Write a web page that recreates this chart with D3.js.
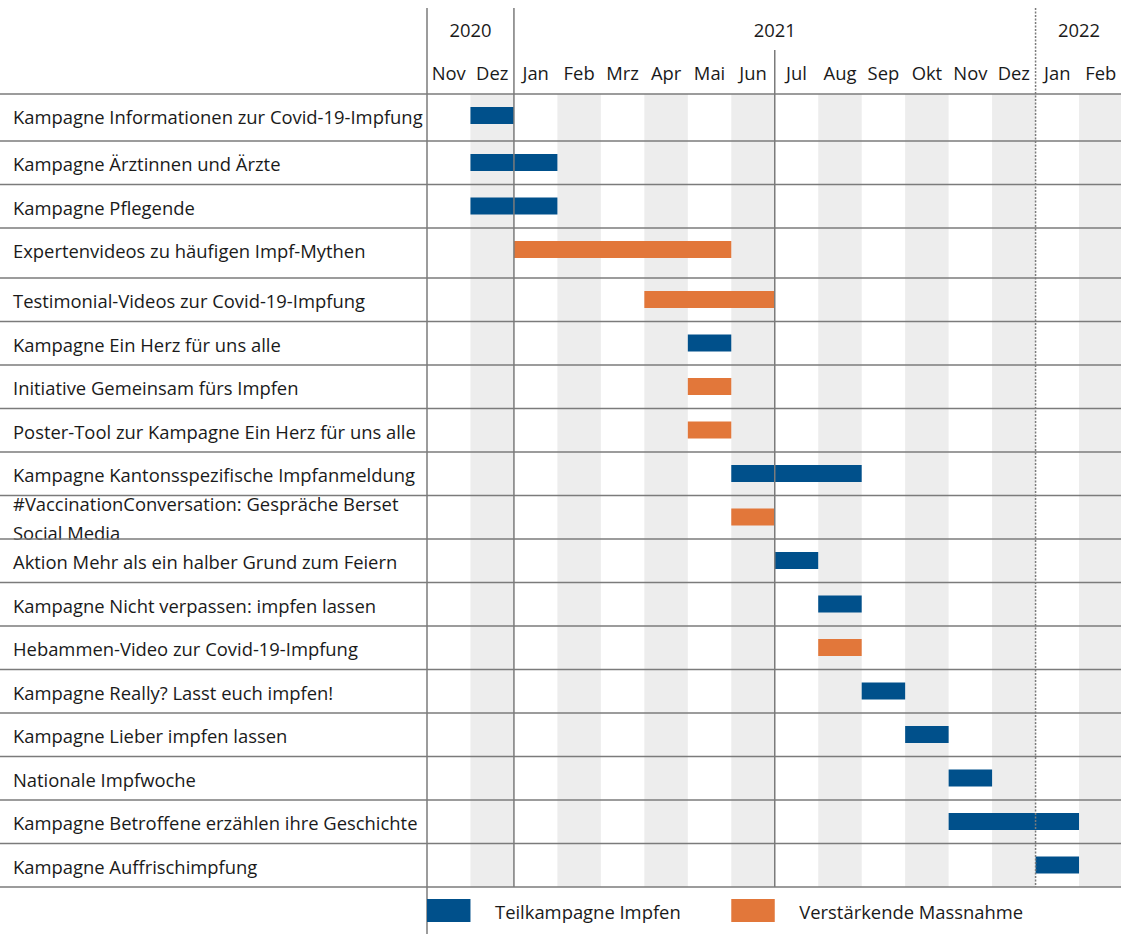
<!DOCTYPE html>
<html>
<head>
<meta charset="utf-8">
<script src="https://cdn.jsdelivr.net/npm/d3@7"></script>
<style>
  html, body { margin: 0; padding: 0; background: #fff; }
  svg { display: block; }
  text { font-family: "Open Sans", "Noto Sans", sans-serif; fill: #1a1a1a; }
</style>
</head>
<body>
<svg id="chart" width="1121" height="934"></svg>
<script>
// ---------- data ----------
const monthKeys = ["2020-11","2020-12","2021-01","2021-02","2021-03","2021-04","2021-05","2021-06",
                   "2021-07","2021-08","2021-09","2021-10","2021-11","2021-12","2022-01","2022-02"];
const monthLabels = ["Nov","Dez","Jan","Feb","Mrz","Apr","Mai","Jun","Jul","Aug","Sep","Okt","Nov","Dez","Jan","Feb"];
const years = ["2020","2021","2022"];
const yearStart = ["2020-11","2021-01","2022-01"];
const yearEnd = ["2020-12","2021-12","2022-02"];

const tasks = [
  "Kampagne Informationen zur Covid-19-Impfung",
  "Kampagne Ärztinnen und Ärzte",
  "Kampagne Pflegende",
  "Expertenvideos zu häufigen Impf-Mythen",
  "Testimonial-Videos zur Covid-19-Impfung",
  "Kampagne Ein Herz für uns alle",
  "Initiative Gemeinsam fürs Impfen",
  "Poster-Tool zur Kampagne Ein Herz für uns alle",
  "Kampagne Kantonsspezifische Impfanmeldung",
  "#VaccinationConversation: Gespräche Berset Social Media",
  "Aktion Mehr als ein halber Grund zum Feiern",
  "Kampagne Nicht verpassen: impfen lassen",
  "Hebammen-Video zur Covid-19-Impfung",
  "Kampagne Really? Lasst euch impfen!",
  "Kampagne Lieber impfen lassen",
  "Nationale Impfwoche",
  "Kampagne Betroffene erzählen ihre Geschichte",
  "Kampagne Auffrischimpfung"
];
// first and last month covered (inclusive)
const taskStart = ["2020-12","2020-12","2020-12","2021-01","2021-04","2021-05","2021-05","2021-05","2021-06",
                   "2021-06","2021-07","2021-08","2021-08","2021-09","2021-10","2021-11","2021-11","2022-01"];
const taskEnd   = ["2020-12","2021-01","2021-01","2021-05","2021-06","2021-05","2021-05","2021-05","2021-08",
                   "2021-06","2021-07","2021-08","2021-08","2021-09","2021-10","2021-11","2022-01","2022-01"];
const taskType  = ["Teilkampagne Impfen","Teilkampagne Impfen","Teilkampagne Impfen","Verstärkende Massnahme",
                   "Verstärkende Massnahme","Teilkampagne Impfen","Verstärkende Massnahme","Verstärkende Massnahme",
                   "Teilkampagne Impfen","Verstärkende Massnahme","Teilkampagne Impfen","Teilkampagne Impfen",
                   "Verstärkende Massnahme","Teilkampagne Impfen","Teilkampagne Impfen","Teilkampagne Impfen",
                   "Teilkampagne Impfen","Teilkampagne Impfen"];
const types = ["Teilkampagne Impfen","Verstärkende Massnahme"];

// ---------- layout ----------
const W = 1121, H = 934;
const gridLeft = 427, gridRight = 1122.5;
const gridTop = 94, gridBottom = 887;
const rowHeights = [47,43.5,43.5,50,43.5,43.5,43.5,43.5,43.5,43.5,43.5,43.5,43.5,43.5,43.5,43.5,43.5,43.5];
const lineColor = "#7b7b7b";
const fontSize = 18.4;

const svg = d3.select("#chart");

const x = d3.scaleBand().domain(monthKeys).range([gridLeft, gridRight]).padding(0);
const rowTops = [];
rowHeights.reduce((acc, h) => { rowTops.push(acc); return acc + h; }, gridTop);
const y = d3.scaleOrdinal().domain(tasks).range(rowTops);
const yH = d3.scaleOrdinal().domain(tasks).range(rowHeights);
const color = d3.scaleOrdinal().domain(types).range(["#00508b", "#e2773a"]);

// shading of every second month
svg.append("g").selectAll("rect")
  .data(monthKeys.filter((d, i) => i % 2 === 1))
  .join("rect")
  .attr("x", d => x(d)).attr("width", x.bandwidth())
  .attr("y", gridTop).attr("height", gridBottom - gridTop)
  .attr("fill", "#ededed");

// header: years
svg.append("g").selectAll("text")
  .data(years)
  .join("text")
  .attr("x", (d, i) => (x(yearStart[i]) + x(yearEnd[i]) + x.bandwidth()) / 2)
  .attr("y", 37)
  .attr("text-anchor", "middle")
  .attr("font-size", fontSize)
  .text(d => d);

// header: months
svg.append("g").selectAll("text")
  .data(monthKeys)
  .join("text")
  .attr("x", d => x(d) + x.bandwidth() / 2)
  .attr("y", 80)
  .attr("text-anchor", "middle")
  .attr("font-size", fontSize)
  .text((d, i) => monthLabels[i]);

// row labels
const labels = svg.append("g").selectAll("text")
  .data(tasks)
  .join("text")
  .attr("x", 13)
  .attr("y", d => y(d) + 30)
  .attr("font-size", fontSize);
labels.each(function(d) {
  const t = d3.select(this);
  if (d.startsWith("#Vaccination")) {
    t.attr("y", y(d) + 15);
    t.append("tspan").attr("x", 13).attr("dy", 0).text("#VaccinationConversation: Gespräche Berset");
    t.append("tspan").attr("x", 13).attr("dy", 29).text("Social Media");
  } else {
    t.text(d);
  }
});

// bars
svg.append("g").selectAll("rect")
  .data(tasks)
  .join("rect")
  .attr("x", (d, i) => x(taskStart[i]))
  .attr("width", (d, i) => x(taskEnd[i]) + x.bandwidth() - x(taskStart[i]))
  .attr("y", d => y(d) + 13)
  .attr("height", 17)
  .attr("fill", (d, i) => color(taskType[i]));

// horizontal row separators
const hLines = [gridTop].concat(tasks.map(d => y(d) + yH(d)));
svg.append("g").selectAll("line")
  .data(hLines)
  .join("line")
  .attr("x1", 0).attr("x2", W)
  .attr("y1", d => d).attr("y2", d => d)
  .attr("stroke", lineColor)
  .attr("stroke-width", 1.5);

// vertical separators
const vg = svg.append("g").attr("stroke", lineColor).attr("stroke-width", 1.5);
vg.append("line").attr("x1", gridLeft).attr("x2", gridLeft).attr("y1", 8).attr("y2", H);
vg.append("line").attr("x1", x("2021-01")).attr("x2", x("2021-01")).attr("y1", 8).attr("y2", gridBottom);
vg.append("line").attr("x1", x("2021-07")).attr("x2", x("2021-07")).attr("y1", 50).attr("y2", gridBottom);
vg.append("line").attr("x1", x("2022-01")).attr("x2", x("2022-01")).attr("y1", 8).attr("y2", gridBottom)
  .attr("stroke-dasharray", "2,1.5");

// legend
const legendX = [x("2020-11"), x("2021-06")];
const legend = svg.append("g").selectAll("g")
  .data(types)
  .join("g");
legend.append("rect")
  .attr("x", (d, i) => legendX[i])
  .attr("y", 899).attr("width", x.bandwidth()).attr("height", 23)
  .attr("fill", d => color(d));
legend.append("text")
  .attr("x", (d, i) => legendX[i] + 68)
  .attr("y", 919)
  .attr("font-size", fontSize)
  .text(d => d);
</script>
</body>
</html>
